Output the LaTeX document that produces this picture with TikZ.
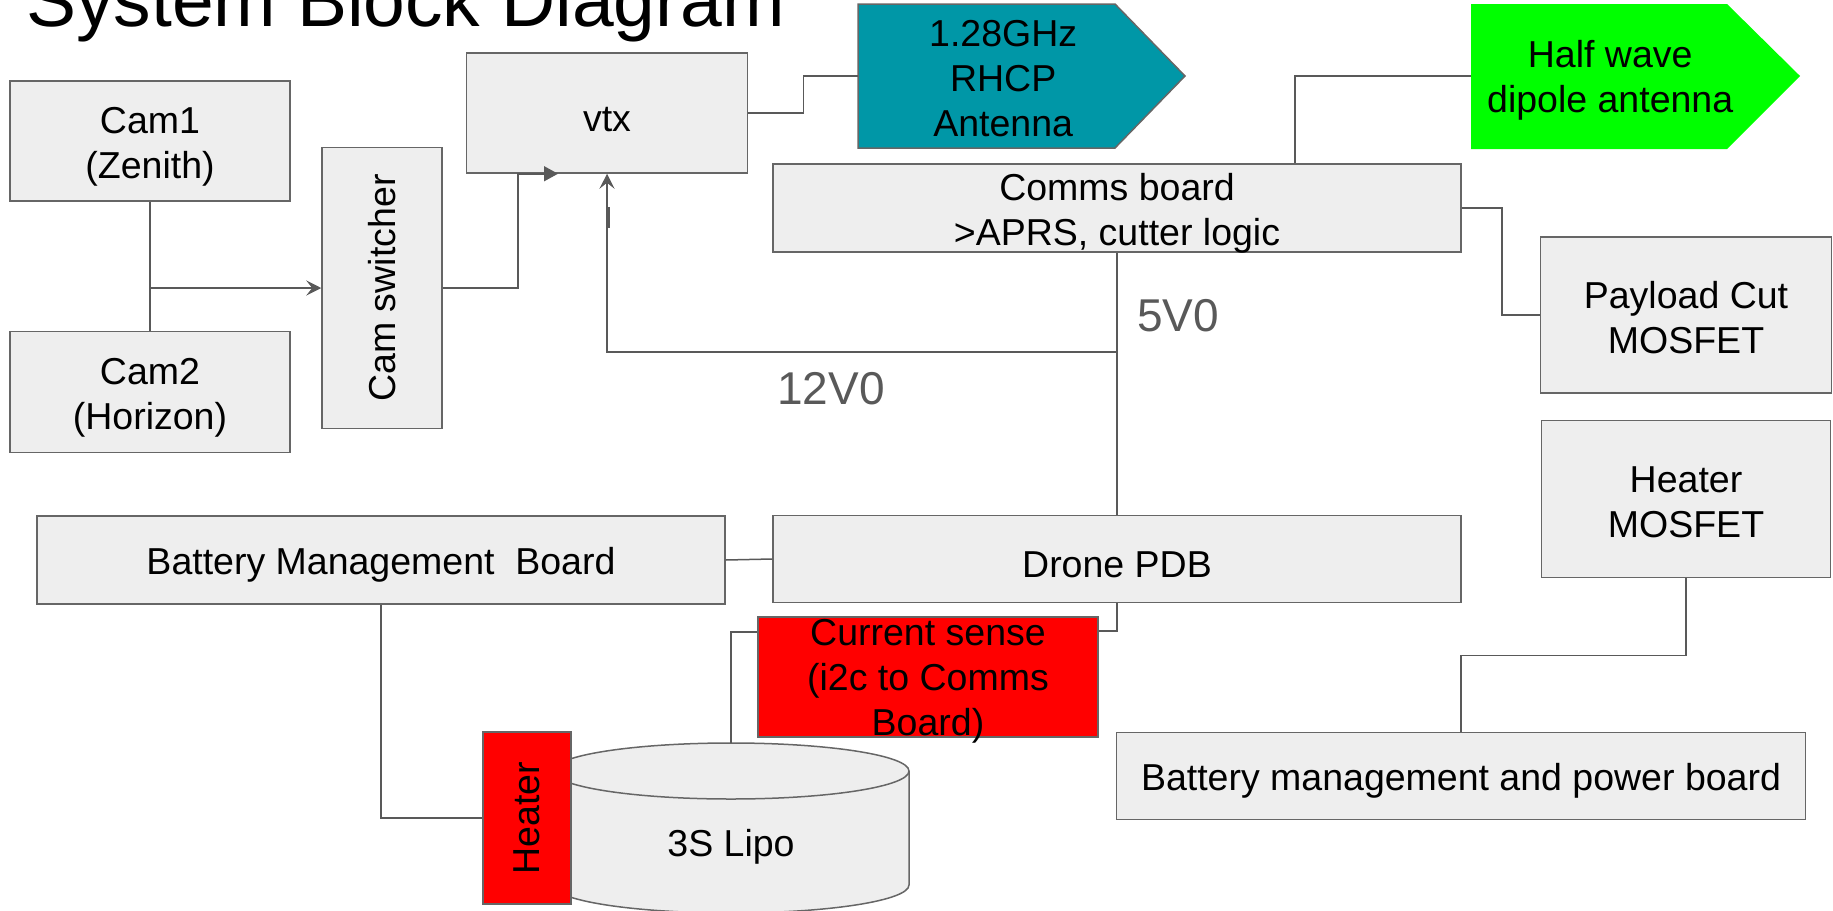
\documentclass[tikz,border=0pt]{standalone}
\usepackage{fontspec}
\setmainfont{Liberation Sans}
\usetikzlibrary{arrows.meta}
\definecolor{boxgray}{HTML}{EEEEEE}
\definecolor{edgegray}{HTML}{666666}
\definecolor{wiregray}{HTML}{595959}
\definecolor{antteal}{HTML}{0097A7}
\definecolor{antgreen}{HTML}{00FF00}
\definecolor{hotred}{HTML}{FF0000}
\newcommand{\boxstrut}[1][38pt]{\rule{0pt}{#1}}
\tikzset{
  txt/.style={align=center, inner sep=0pt, font=\fontsize{37.5}{45}\selectfont,
    execute at begin node={\rule{0pt}{37pt}}},
  blk/.style={txt, draw=edgegray, fill=boxgray, line width=1.5pt},
  wire/.style={draw=wiregray, line width=1.5pt},
  volt/.style={text=wiregray, inner sep=0pt, font=\fontsize{46}{50}\selectfont},
  openhead/.style={-{Stealth[length=15pt,width=15pt,inset=6pt]}},
  fullhead/.style={-{Triangle[length=14pt,width=15pt]}},
}
\begin{document}
\begin{tikzpicture}[x=1pt, y=-1pt]
  \useasboundingbox (0,0) rectangle (1833,910);
  \node[anchor=base west, inner sep=0pt, font=\fontsize{75}{80}\selectfont] (title) at (26,27) {System Block Diagram};

  % cameras and video
  \node[blk, minimum width=280, minimum height=120] (cam1) at (150,141) {\boxstrut Cam1\\(Zenith)};
  \node[blk, minimum width=280, minimum height=121] (cam2) at (150,392) {\boxstrut Cam2\\(Horizon)};
  \node[blk, minimum width=120, minimum height=281] (switcher) at (382,288) {\rotatebox{90}{Cam switcher}};
  \node[blk, minimum width=281, minimum height=120] (vtx) at (607,113) {vtx};

  % antennas
  \draw[draw=edgegray, line width=1.5pt, fill=antteal] (858,4) -- (1115,4) -- (1185,76) -- (1115,148) -- (858,148) -- cycle;
  \node[txt, minimum width=290, minimum height=144, anchor=west] (rhcp) at (858,76) {\boxstrut[32pt]1.28GHz\\RHCP\\Antenna};
  \fill[antgreen] (1471,4) -- (1727,4) -- (1800,76) -- (1727,149) -- (1471,149) -- cycle;
  \node[txt, minimum width=278, minimum height=145, anchor=west] (dipole) at (1471,76) {\boxstrut[36pt]Half wave\\dipole antenna};

  % boards
  \node[blk, minimum width=688, minimum height=88, text height=80pt, text depth=6pt] (comms) at (1117,208) {Comms board\\>APRS, cutter logic};
  \node[blk, minimum width=291, minimum height=156] (payload) at (1686,315) {\boxstrut[33pt]Payload Cut\\MOSFET};
  \node[blk, minimum width=289, minimum height=157] (heatfet) at (1686,499) {\boxstrut[33pt]Heater\\MOSFET};
  \node[blk, minimum width=688, minimum height=87] (pdb) at (1117,559) {Drone PDB};
  \node[blk, minimum width=688, minimum height=88] (bmb) at (381,560) {Battery Management\ \ Board};
  \node[blk, minimum width=689, minimum height=87] (power) at (1461,776) {Battery management and power board};
  \node[blk, fill=hotred, minimum width=340, minimum height=120, text height=116pt, text depth=0pt] (sense) at (928,677) {Current sense\\(i2c to Comms\\Board)};

  % battery pack
  \draw[draw=edgegray, line width=1.5pt, fill=boxgray] (553,771) -- (553,885) arc[start angle=180, end angle=0, x radius=178, y radius=28] -- (909,771) arc[start angle=0, end angle=-180, x radius=178, y radius=28] -- cycle;
  \draw[draw=edgegray, line width=1.5pt] (553,771) arc[start angle=180, end angle=0, x radius=178, y radius=28];
  \coordinate (lipotop) at (731,743);
  \node[txt] (lipo) at (731,842) {3S Lipo};
  \node[blk, fill=hotred, minimum width=88, minimum height=172] (heater) at (527,818) {\rotatebox{90}{Heater}};

  % video links
  \draw[wire] (cam1.south) -- (cam2.north);
  \draw[wire, openhead] (cam1.south |- switcher.west) -- (switcher.west);
  \draw[wire, fullhead] (switcher.east) -| ([xshift=-89pt]vtx.south) -- ([xshift=-49pt]vtx.south);
  \draw[wire] (vtx.east) -- ++(55,0) |- (rhcp.west);

  % power and data
  \draw[wire] (comms.south) -- (pdb.north);
  \coordinate (tap12) at (1117,352);
  \draw[wire, openhead] (tap12) -| (vtx.south);
  \draw[wire, line width=3.5pt] (608,207) -- (608,228);
  \draw[wire] ([xshift=178pt]comms.north) |- (dipole.west);
  \draw[wire] (comms.east) -- ++(40,0) |- (payload.west);
  \draw[wire] (bmb.east) -- (pdb.west);
  \draw[wire] (pdb.south) |- ([yshift=46pt]sense.east);
  \draw[wire] ([yshift=45pt]sense.west) -| (lipotop);
  \draw[wire] (bmb.south) |- (heater.west);
  \draw[wire] (heatfet.south) -- ++(0,77) -| (power.north);

  \node[volt] (v12) at (831,389) {12V0};
  \node[volt] (v5) at (1178,316) {5V0};
\end{tikzpicture}
\end{document}
